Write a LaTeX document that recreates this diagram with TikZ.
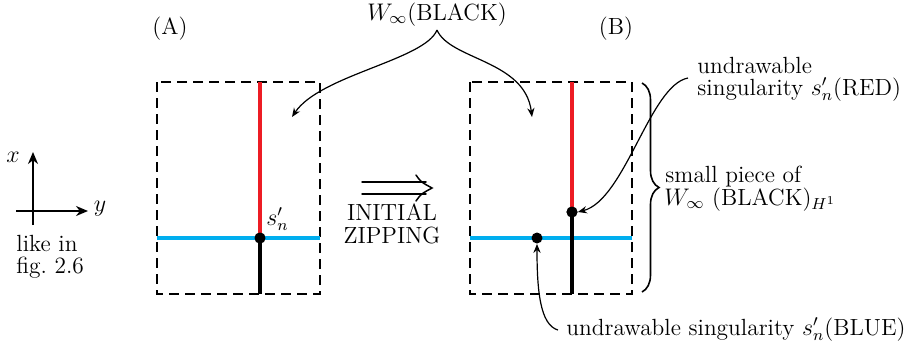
\documentclass[tikz,border=0pt]{standalone}
\usetikzlibrary{arrows.meta,decorations.pathreplacing}
\definecolor{myred}{RGB}{237,28,36}
\definecolor{myblue}{RGB}{0,174,239}
\tikzset{
  every node/.style={font=\fontsize{11.7}{11.5}\selectfont, inner sep=0pt},
  frame/.style={dashed, dash pattern=on 5pt off 3pt, line width=0.9pt},
  redline/.style={myred, line width=2pt},
  blueline/.style={myblue, line width=2pt},
  blackline/.style={black, line width=1.8pt},
  singdot/.style={circle, fill=black, minimum size=5.5pt, inner sep=0pt},
  pointer/.style={line width=0.6pt, -{Stealth[length=4.5pt,width=3.6pt]}},
  axis/.style={line width=1pt, -{Stealth[length=6pt,width=5pt]}},
  implies/.style={line width=0.75pt, line cap=round},
}
\begin{document}
\begin{tikzpicture}[x=0.5pt,y=-0.5pt]
\useasboundingbox (0,0) rectangle (912,345);
% axes
\coordinate (o) at (33,211);
\coordinate (xb) at (33,225);
\coordinate (xt) at (33,152);
\coordinate (yb) at (16,211);
\coordinate (yt) at (88,211);
\draw[axis] (xb) -- (xt);
\draw[axis] (yb) -- (yt);
\node (xl) at (13,157) {$x$};
\node (yl) at (100,209) {$y$};
\node[anchor=base west] (like) at (16,251) {like in};
\node[anchor=base west] (fig) at (16,273) {fig.\ 2.6};
% box A
\coordinate (a1) at (157,82);
\coordinate (a2) at (320,294);
\draw[frame] (a1) rectangle (a2);
\coordinate (aRt) at (260,82);
\coordinate (aBl) at (157,238);
\coordinate (aBr) at (320,238);
\coordinate (aKb) at (260,294);
\node[singdot] (sA) at (260,238) {};
\draw[redline] (aRt) -- (sA.center);
\draw[blueline] (aBl) -- (aBr);
\draw[blackline] (sA.center) -- (aKb);
\node[singdot] at (260,238) {};
\node[anchor=base west] (sAl) at (266,225) {$s'_n$};
\node[anchor=base] (labA) at (170,34) {(A)};
% implication arrow
\draw[implies] (362,182) -- (426,182);
\draw[implies] (362,194) -- (426,194);
\draw[implies] (416,175) .. controls (421,182) .. (432,188) .. controls (421,194) .. (416,201);
\node[anchor=base] (ini) at (392,220) {INITIAL};
\node[anchor=base] (zip) at (392,243) {ZIPPING};
% box B
\coordinate (b1) at (470,82);
\coordinate (b2) at (632,294);
\draw[frame] (b1) rectangle (b2);
\coordinate (bRt) at (572,82);
\coordinate (bBl) at (470,238);
\coordinate (bBr) at (632,238);
\coordinate (bKb) at (572,294);
\draw[blueline] (bBl) -- (bBr);
\node[singdot] (sR) at (572,212) {};
\node[singdot] (sB) at (537,238) {};
\draw[redline] (bRt) -- (sR.center);
\draw[blackline] (sR.center) -- (bKb);
\node[singdot] at (572,212) {};
\node[anchor=base] (labB) at (616,34) {(B)};
% W label
\node[anchor=base] (W) at (437,20) {$W_\infty$(BLACK)};
\coordinate (wt) at (437,30);
\coordinate (wl) at (292,117);
\coordinate (wr) at (532,117);
\draw[pointer] (wt) .. controls (425,60) and (320,75) .. (wl);
\draw[pointer] (wt) .. controls (450,60) and (525,60) .. (wr);
% brace
\coordinate (brt) at (642,83);
\coordinate (brb) at (642,292);
\draw[line width=0.8pt, decorate, decoration={brace, amplitude=8.5pt}] (brt) -- (brb);
\node[anchor=base west] (sp1) at (665,182) {small piece of};
\node[anchor=base west] (sp2) at (664,205) {$W_\infty$\ (BLACK)$_{H^1}$};
% red singularity label
\node[anchor=base west] (ur1) at (697,73) {undrawable};
\node[anchor=base west] (ur2) at (697,95) {singularity $s'_n$(RED)};
\coordinate (rs) at (688,78);
\draw[pointer] (rs) .. controls (650,85) and (625,200) .. (sR.east);
% blue singularity label
\node[anchor=base west] (ub) at (566,335) {undrawable singularity $s'_n$(BLUE)};
\coordinate (bs) at (558,330);
\draw[pointer] (bs) .. controls (540,325) and (537,290) .. (sB.south);
\end{tikzpicture}
\end{document}
